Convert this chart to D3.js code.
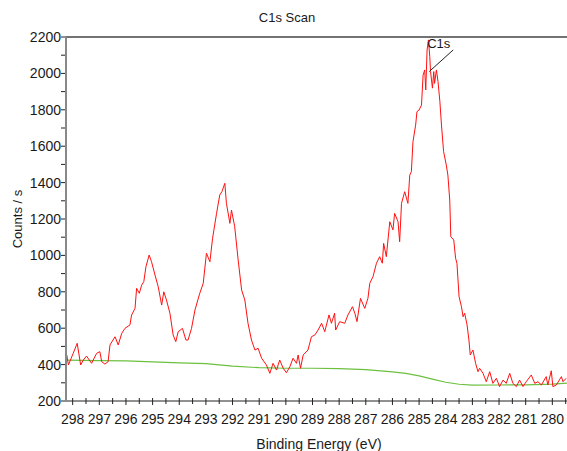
<!DOCTYPE html>
<html>
<head>
<meta charset="utf-8">
<script src="https://cdnjs.cloudflare.com/ajax/libs/d3/7.8.5/d3.min.js"></script>
<style>
  body { margin: 0; background: #fff; }
  text { font-family: Arial, "Liberation Sans", sans-serif; fill: #1a1a1a; }
</style>
</head>
<body>
<div id="chart-area"></div>
<script>

// DATA ---------------------------------------------------------
// red spectrum, binding energy (eV) and counts/s
var energy = [298.22, 298.16, 297.98, 297.83, 297.70, 297.60, 297.48, 297.29, 297.10, 296.98,
  296.91, 296.79, 296.67, 296.60, 296.41, 296.29, 296.16, 296.04, 295.85, 295.79,
  295.66, 295.60, 295.50, 295.41, 295.33, 295.25, 295.13, 295.04, 294.91, 294.79,
  294.66, 294.58, 294.48, 294.35, 294.23, 294.13, 294.04, 293.88, 293.75, 293.67,
  293.54, 293.41, 293.23, 293.10, 292.98, 292.85, 292.75, 292.60, 292.48, 292.40,
  292.29, 292.23, 292.10, 292.04, 291.92, 291.79, 291.66, 291.54, 291.42, 291.29,
  291.16, 291.04, 290.91, 290.73, 290.60, 290.48, 290.35, 290.23, 290.10, 289.98,
  289.85, 289.73, 289.60, 289.54, 289.45, 289.35, 289.17, 289.04, 288.91, 288.79,
  288.66, 288.54, 288.38, 288.29, 288.17, 288.13, 287.98, 287.79, 287.67, 287.50,
  287.41, 287.33, 287.20, 287.04, 286.92, 286.85, 286.73, 286.60, 286.48, 286.38,
  286.33, 286.23, 286.10, 285.98, 285.92, 285.79, 285.73, 285.66, 285.54, 285.42,
  285.35, 285.29, 285.23, 285.13, 285.08, 285.00, 284.91, 284.85, 284.79, 284.75,
  284.70, 284.65, 284.60, 284.57, 284.50, 284.45, 284.42, 284.35, 284.29, 284.22,
  284.16, 284.08, 283.98, 283.92, 283.85, 283.81, 283.70, 283.63, 283.58, 283.50,
  283.41, 283.35, 283.29, 283.20, 283.13, 283.08, 282.98, 282.88, 282.79, 282.73,
  282.60, 282.48, 282.35, 282.23, 282.10, 281.98, 281.85, 281.73, 281.60, 281.48,
  281.35, 281.23, 281.10, 280.98, 280.79, 280.66, 280.54, 280.41, 280.23, 280.17,
  280.04, 279.98, 279.85, 279.66, 279.60, 279.48];

var counts = [453, 398, 462, 517, 398, 425, 447, 407, 462, 471,
  416, 403, 416, 508, 553, 508, 571, 599, 618, 672,
  709, 819, 792, 837, 856, 938, 1002, 965, 892, 828,
  727, 800, 755, 682, 563, 526, 581, 599, 535, 535,
  599, 700, 792, 847, 1012, 965, 1094, 1231, 1332, 1350,
  1396, 1286, 1176, 1249, 1158, 975, 810, 755, 627, 535,
  480, 490, 435, 398, 352, 407, 370, 425, 380, 355,
  388, 435, 407, 453, 380, 453, 480, 553, 563, 590,
  627, 581, 673, 627, 682, 590, 636, 627, 673, 718,
  682, 636, 764, 709, 764, 847, 883, 957, 993, 957,
  1066, 993, 1185, 1140, 1231, 1185, 1075, 1286, 1350, 1286,
  1441, 1460, 1625, 1716, 1790, 1799, 1826, 1991, 2019, 1909,
  2129, 2184, 2093, 2010, 1919, 2010, 1945, 2019, 1955, 1845,
  1716, 1570, 1497, 1441, 1304, 1103, 1085, 984, 957, 773,
  718, 663, 682, 618, 535, 453, 480, 407, 361, 380,
  352, 306, 361, 297, 325, 279, 315, 297, 352, 297,
  279, 315, 279, 306, 343, 297, 306, 288, 334, 288,
  366, 279, 288, 334, 306, 325];

// green background
var bgEnergy = [298.25, 297, 296, 295, 294, 293, 292, 291, 290, 289, 288, 287, 286,
  285.5, 285, 284.5, 284, 283.5, 283, 282, 281, 280, 279.45];
var bgCounts = [425, 422, 420, 415, 410, 405, 392, 383, 380, 380, 378, 372, 360,
  352, 338, 320, 303, 292, 287, 288, 289, 293, 298];

var xTickValues = d3.range(298, 279, -1);   // 298 ... 280
var xMinorValues = d3.range(298, 279.4, -0.5);
var yTickValues = d3.range(200, 2201, 200);
var yMinorValues = d3.range(200, 2201, 100);

var peakLabel = { name: "C1s", energy: 284.62, counts: 2010 };


// SVG ---------------------------------------------------------
var svgWidth = 567;
var svgHeight = 451;
var plot = { left: 66, right: 567, top: 37, bottom: 401 };

var svg = d3.select("#chart-area").append("svg")
    .attr("width", svgWidth)
    .attr("height", svgHeight);


// SCALES ------------------------------------------------------
var x = d3.scaleLinear()
    .domain([298.25, 279.45])
    .range([plot.left, plot.right]);
var y = d3.scaleLinear()
    .domain([200, 2200])
    .range([plot.bottom, plot.top]);


// LINES -------------------------------------------------------
svg.append("clipPath").attr("id", "clip")
  .append("rect")
    .attr("x", plot.left)
    .attr("y", plot.top)
    .attr("width", plot.right - plot.left)
    .attr("height", plot.bottom - plot.top);

var lineGen = d3.line()
    .x(d => x(d[0]))
    .y(d => y(d[1]));

svg.append("path")
    .datum(d3.zip(bgEnergy, bgCounts))
    .attr("clip-path", "url(#clip)")
    .attr("fill", "none")
    .attr("stroke", "#6cc040")
    .attr("stroke-width", 1.2)
    .attr("d", lineGen);

svg.append("path")
    .datum(d3.zip(energy, counts))
    .attr("clip-path", "url(#clip)")
    .attr("fill", "none")
    .attr("stroke", "#ff1010")
    .attr("stroke-width", 1)
    .attr("d", lineGen);


// AXES --------------------------------------------------------
// top frame line
svg.append("line")
    .attr("x1", plot.left).attr("x2", plot.right)
    .attr("y1", plot.top).attr("y2", plot.top)
    .attr("stroke", "#444").attr("stroke-width", 1.5);

// X axis
var xAxis = svg.append("g")
    .attr("transform", "translate(0," + plot.bottom + ")");
xAxis.append("line")
    .attr("x1", plot.left).attr("x2", plot.right)
    .attr("stroke", "#222").attr("stroke-width", 1);
xAxis.selectAll(".minor")
    .data(xMinorValues)
  .enter().append("line")
    .attr("x1", d => x(d)).attr("x2", d => x(d))
    .attr("y1", -3)
    .attr("y2", d => Number.isInteger(d) ? 4 : 3)
    .attr("stroke", "#222");
xAxis.selectAll(".lbl")
    .data(xTickValues)
  .enter().append("text")
    .attr("x", d => x(d))
    .attr("y", 23)
    .attr("font-size", "14px")
    .attr("text-anchor", "middle")
    .text(d => d);

// Y axis
var yAxis = svg.append("g")
    .attr("transform", "translate(" + plot.left + ",0)");
yAxis.selectAll(".minor")
    .data(yMinorValues)
  .enter().append("line")
    .attr("x1", -5).attr("x2", 0)
    .attr("y1", d => y(d)).attr("y2", d => y(d))
    .attr("stroke", "#222");
yAxis.append("line")
    .attr("y1", plot.top).attr("y2", plot.bottom)
    .attr("stroke", "#888").attr("stroke-width", 2);
yAxis.selectAll(".lbl")
    .data(yTickValues)
  .enter().append("text")
    .attr("x", -5)
    .attr("y", d => y(d) + 5)
    .attr("font-size", "14px")
    .attr("text-anchor", "end")
    .text(d => d);


// LABELS ------------------------------------------------------
svg.append("text")
    .attr("x", 287)
    .attr("y", 22)
    .attr("font-size", "13px")
    .attr("text-anchor", "middle")
    .text("C1s Scan");

svg.append("text")
    .attr("x", 319)
    .attr("y", 449)
    .attr("font-size", "14px")
    .attr("text-anchor", "middle")
    .text("Binding Energy (eV)");

svg.append("text")
    .attr("transform", "translate(22," + ((plot.top + plot.bottom) / 2) + ") rotate(-90)")
    .attr("font-size", "13px")
    .attr("text-anchor", "middle")
    .text("Counts / s");

// peak annotation
var lblX = x(peakLabel.energy) - 2;
var lblY = y(2140);
svg.append("line")
    .attr("x1", x(peakLabel.energy)).attr("y1", y(peakLabel.counts))
    .attr("x2", lblX + 26).attr("y2", lblY + 2)
    .attr("stroke", "#222").attr("stroke-width", 1);
svg.append("text")
    .attr("x", lblX)
    .attr("y", lblY)
    .attr("font-size", "13px")
    .text(peakLabel.name);

</script>
</body>
</html>
